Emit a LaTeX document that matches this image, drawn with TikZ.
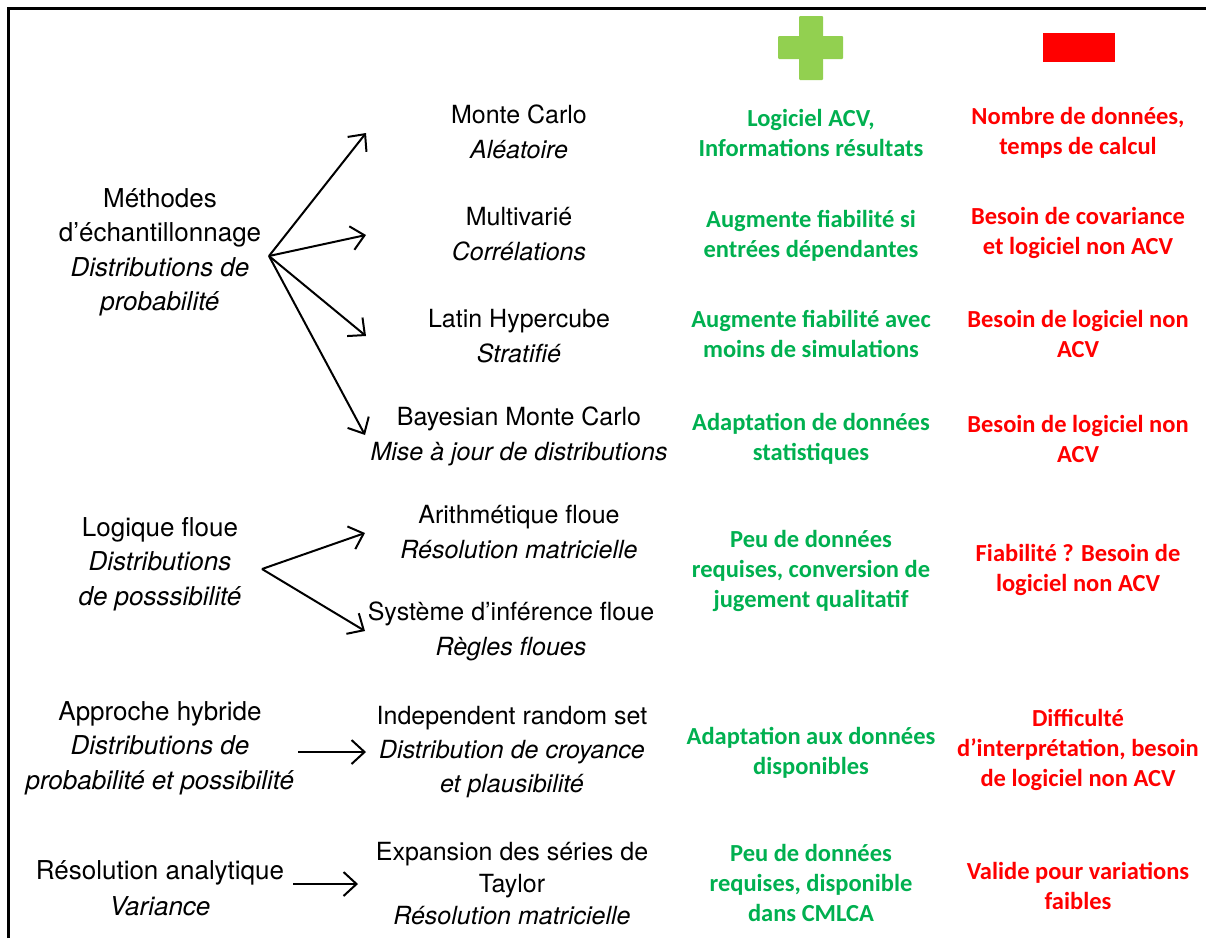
\documentclass[tikz,border=0pt]{standalone}
\usepackage{fontspec}
\setmainfont{TeX Gyre Heros}
\newfontfamily\calib{Carlito}
\usetikzlibrary{arrows.meta}

\definecolor{plusgreen}{HTML}{92D050}
\definecolor{progreen}{HTML}{00B050}
\definecolor{conred}{HTML}{FF0000}

\tikzstyle{meth} = [align=center, inner sep=0, font=\fontsize{25}{35}\selectfont]
\tikzstyle{fam}  = [align=center, inner sep=0, font=\fontsize{26}{34.5}\selectfont]
\tikzstyle{pro}  = [align=center, inner sep=0, text=progreen, font=\calib\bfseries\fontsize{24.5}{30}\selectfont]
\tikzstyle{con}  = [pro, text=conred]
\tikzstyle{fan}  = [->, >={Straight Barb[length=13pt,width=24pt]}, line width=2pt]

\begin{document}
\begin{tikzpicture}[x=1pt,y=-1pt]
\useasboundingbox (0,0) rectangle (1206,938);
\def\xl{160}
\def\xm{519}
\def\xp{811}
\def\xc{1078}

%   frame and header signs
	\draw[line width=2.5pt] (8.5,938) -- (8.5,8.5) -- (1206,8.5);
	\fill[plusgreen,rounded corners=1pt] (799,16) rectangle (823,80);
	\fill[plusgreen,rounded corners=1pt] (778,36) rectangle (843,59);
	\fill[conred] (1043,33) rectangle (1115,62);

%   families of methods
	\node[fam] (ech) at (\xl,252.5) {M\'ethodes\\d’\'echantillonnage\\\textit{Distributions de}\\\textit{probabilit\'e}};
	\node[fam] (flou) at (\xl,564) {Logique floue\\\textit{Distributions}\\\textit{de posssibilit\'e}};
	\node[fam] (hyb) at (\xl,748) {Approche hybride\\\textit{Distributions de}\\\textit{probabilit\'e et possibilit\'e}};
	\node[fam,font=\fontsize{26}{36}\selectfont] (ana) at (\xl,888) {R\'esolution analytique\\\textit{Variance}};

%   methods
	\node[meth] (mc) at (\xm,131.5) {Monte Carlo\\\textit{Al\'eatoire}};
	\node[meth] (mv) at (\xm,234.5) {Multivari\'e\\\textit{Corr\'elations}};
	\node[meth] (lh) at (\xm,336.5) {Latin Hypercube\\\textit{Stratifi\'e}};
	\node[meth] (bmc) at (\xm,436.5) {Bayesian Monte Carlo\\\textit{Mise \`a jour de distributions}};
	\node[meth] (af) at (\xm,532.5) {Arithm\'etique floue\\\textit{R\'esolution matricielle}};
	\node[meth] (sif) at (511,631.5) {Syst\`eme d’inf\'erence floue\\\textit{R\`egles floues}};
	\node[meth,font=\fontsize{25}{34}\selectfont] (irs) at (512,752) {Independent random set\\\textit{Distribution de croyance}\\\textit{et plausibilit\'e}};
	\node[meth,font=\fontsize{25}{32}\selectfont] (tay) at (512,884) {Expansion des s\'eries de\\Taylor\\\textit{R\'esolution matricielle}};

%   advantages
	\node[pro] (mc+) at (\xp,133) {Logiciel ACV,\\Informations r\'esultats};
	\node[pro] (mv+) at (\xp,236) {Augmente fiabilit\'e si\\entr\'ees d\'ependantes};
	\node[pro] (lh+) at (\xp,334) {Augmente fiabilit\'e avec\\moins de simulations};
	\node[pro] (bmc+) at (\xp,439) {Adaptation de donn\'ees\\statistiques};
	\node[pro] (flou+) at (\xp,570.5) {Peu de donn\'ees\\requises, conversion de\\jugement qualitatif};
	\node[pro] (irs+) at (\xp,752.5) {Adaptation aux donn\'ees\\disponibles};
	\node[pro] (tay+) at (\xp,883) {Peu de donn\'ees\\requises, disponible\\dans CMLCA};

%   drawbacks
	\node[con] (mc-) at (\xc,133) {Nombre de donn\'ees,\\temps de calcul};
	\node[con] (mv-) at (\xc,233) {Besoin de covariance\\et logiciel non ACV};
	\node[con] (lh-) at (\xc,334) {Besoin de logiciel non\\ACV};
	\node[con] (bmc-) at (\xc,439) {Besoin de logiciel non\\ACV};
	\node[con] (flou-) at (\xc,570) {Fiabilit\'e ? Besoin de\\logiciel non ACV};
	\node[con] (irs-) at (\xc,750) {Difficult\'e\\d’interpr\'etation, besoin\\de logiciel non ACV};
	\node[con] (tay-) at (\xc,886) {Valide pour variations\\faibles};

%   arrows
	\coordinate (ech-o) at (269,256);
	\coordinate (mc-i) at (366,133);
	\coordinate (mv-i) at (366,235);
	\coordinate (lh-i) at (366,336);
	\coordinate (bmc-i) at (365,435);
	\draw[fan] (ech-o) -- (mc-i);
	\draw[fan] (ech-o) -- (mv-i);
	\draw[fan] (ech-o) -- (lh-i);
	\draw[fan] (ech-o) -- (bmc-i);

	\coordinate (flou-o) at (262,569);
	\coordinate (af-i) at (365,533);
	\coordinate (sif-i) at (365,631);
	\draw[fan] (flou-o) -- (af-i);
	\draw[fan] (flou-o) -- (sif-i);

	\coordinate (hyb-o) at (298,752);
	\coordinate (irs-i) at (366,752);
	\draw[fan] (hyb-o) -- (irs-i);

	\coordinate (ana-o) at (293,884);
	\coordinate (tay-i) at (358,884);
	\draw[fan] (ana-o) -- (tay-i);

\end{tikzpicture}
\end{document}
